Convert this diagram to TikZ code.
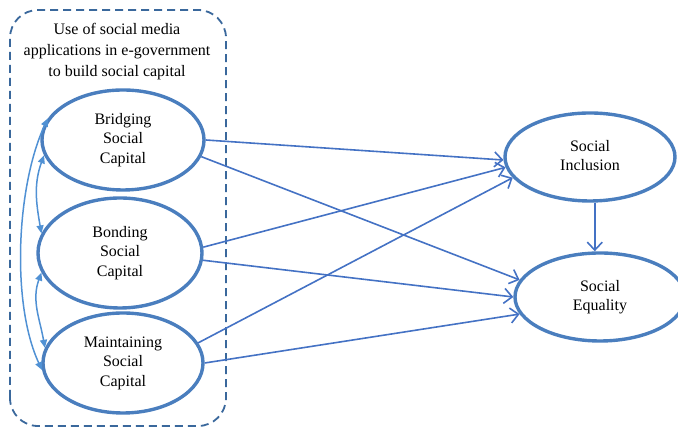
\documentclass[tikz,border=0pt]{standalone}
\usepackage{fontspec}
\setmainfont{Liberation Serif}
\usetikzlibrary{shapes.geometric,arrows.meta}
\definecolor{ellblue}{RGB}{74,126,190}
\definecolor{arrblue}{RGB}{68,114,196}
\definecolor{curblue}{RGB}{80,145,212}
\definecolor{boxblue}{RGB}{58,104,156}
\begin{document}
\begin{tikzpicture}[x=1pt,y=1pt,
		capital/.style={ellipse,draw=ellblue,line width=3.4pt,inner sep=0pt,align=center,font=\fontsize{16}{19.5}\selectfont},
		arr/.style={draw=arrblue,line width=1.6pt,-{Straight Barb[length=8pt,width=15pt]}},
		link/.style={draw=curblue,line width=1.5pt,{Triangle[length=8pt,width=7pt]}-{Triangle[length=8pt,width=7pt]}}]
	\useasboundingbox (0,0) rectangle (678,430);
	% dashed frame round the three capitals
	\draw[boxblue,line width=1.8pt,dash pattern=on 8pt off 5pt,rounded corners=28pt] (10,4) rectangle (226,420);
	\node[align=center,font=\fontsize{16}{21}\selectfont] (title) at (117,378) {Use of social media\\applications in e-government\\to build social capital};
	\node[capital,minimum width=162pt,minimum height=100pt] (bridging) at (123,290) {Bridging\\Social\\Capital};
	\node[capital,minimum width=164pt,minimum height=110pt] (bonding) at (120,177) {Bonding\\Social\\Capital};
	\node[capital,minimum width=160pt,minimum height=100pt] (maintaining) at (123,67) {Maintaining\\Social\\Capital};
	\node[capital,minimum width=170pt,minimum height=88pt] (inclusion) at (590,273) {Social\\Inclusion\vphantom{p}};
	\node[capital,minimum width=170pt,minimum height=88pt] (equality) at (600,133) {Social\\Equality};
	% paths
	\draw[arr] (bridging.east) -- (inclusion.182);
	\draw[arr] (bridging.-12) -- (equality.168);
	\draw[arr] (bonding.4) -- (inclusion.187);
	\draw[arr] (bonding.-5) -- (equality.180);
	\draw[arr] (maintaining.15) -- (inclusion.195);
	\draw[arr] (maintaining.east) -- (equality.192);
	\draw[arr] (inclusion.-84) -- (inclusion.-84 |- equality.north);
	% correlations
	\draw[link] (bridging.191) to[out=250,in=100] (bonding.166);
	\draw[link] (bonding.194) to[out=250,in=100] (maintaining.169);
	\draw[link] (bridging.164) to[out=245,in=115,looseness=0.75] (maintaining.185);
\end{tikzpicture}
\end{document}
